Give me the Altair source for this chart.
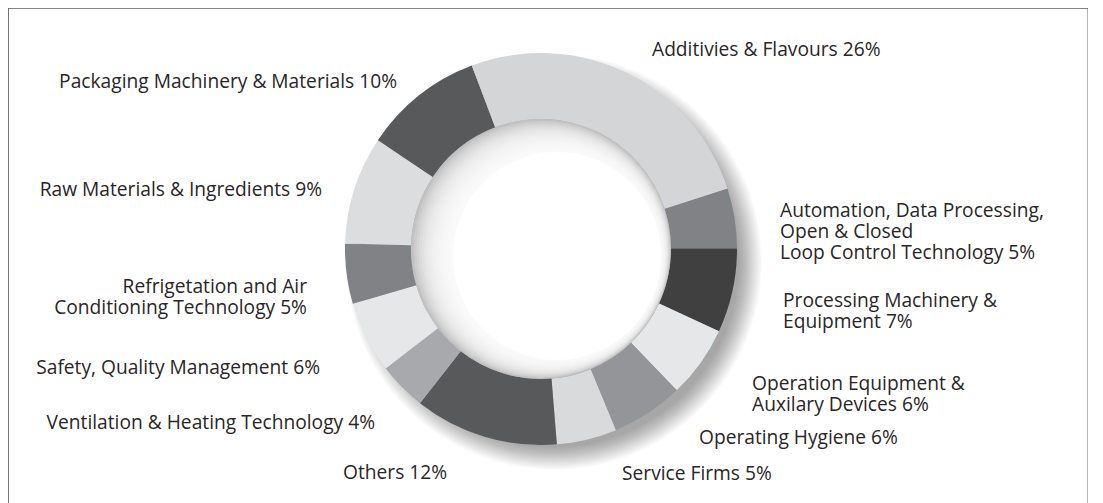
import math
import altair as alt
import pandas as pd

# ---------------- data ----------------
categories = [
    "Automation, Data Processing, Open & Closed Loop Control Technology",
    "Processing Machinery & Equipment",
    "Operation Equipment & Auxilary Devices",
    "Operating Hygiene",
    "Service Firms",
    "Others",
    "Ventilation & Heating Technology",
    "Safety, Quality Management",
    "Refrigetation and Air Conditioning Technology",
    "Raw Materials & Ingredients",
    "Packaging Machinery & Materials",
    "Additivies & Flavours",
]
shares = [5, 7, 6, 6, 5, 12, 4, 6, 5, 9, 10, 26]
label_lines = [
    "Automation, Data Processing,\nOpen & Closed\nLoop Control Technology 5%",
    "Processing Machinery &\nEquipment 7%",
    "Operation Equipment &\nAuxilary Devices 6%",
    "Operating Hygiene 6%",
    "Service Firms 5%",
    "Others 12%",
    "Ventilation & Heating Technology 4%",
    "Safety, Quality Management 6%",
    "Refrigetation and Air\nConditioning Technology 5%",
    "Raw Materials & Ingredients 9%",
    "Packaging Machinery & Materials 10%",
    "Additivies & Flavours 26%",
]

# ---------------- styles / layout ----------------
grays = ["#808285", "#404041", "#e6e7e8", "#939598", "#d9dadb", "#58595b",
         "#a7a9ac", "#e6e7e8", "#808285", "#dcdddf", "#58595b", "#d4d5d6"]
MARGIN = 8
W, H = 1080, 497
CX, CY = 541 - MARGIN, 249 - MARGIN        # donut centre (plot coords)
R_OUT, R_IN = 196, 130
START = math.radians(72.0)
FONT = "Open Sans"
FS = 19.2
TXT = "#2a2627"

# label anchors (page pixels): x, y of block centre, alignment
label_x = [780, 783, 752, 699, 622, 343, 375, 320, 307, 322, 397, 652]
label_y = [211, 300.5, 383.5, 438, 474, 473, 423, 368, 287, 190, 82, 50]
label_align = ["left", "left", "left", "left", "left", "left",
               "right", "right", "right", "right", "right", "left"]

df = pd.DataFrame({
    "category": categories,
    "share": shares,
    "idx": list(range(len(categories))),
})

lab = pd.DataFrame({
    "text": label_lines,
    "x": [v - MARGIN for v in label_x],
    "y": [v - MARGIN for v in label_y],
    "align": label_align,
})

one = pd.DataFrame({"k": [0]})


def disc(r, cx, cy, color, opacity):
    return alt.Chart(one).mark_arc(
        theta=0, theta2=2 * math.pi, innerRadius=0, outerRadius=r,
        color=color, opacity=opacity, stroke=None
    ).encode(x=alt.value(cx), y=alt.value(cy))


# drop shadow (decoration)
shadow_layers = [disc(208 - i, CX + 13, CY + 13, "#000000", 0.017)
                 for i in range(24)]

donut = alt.Chart(df).mark_arc(
    innerRadius=R_IN, outerRadius=R_OUT, stroke=None
).encode(
    theta=alt.Theta("share:Q", stack=True,
                    scale=alt.Scale(range=[START, START + 2 * math.pi])),
    color=alt.Color("category:N",
                    scale=alt.Scale(domain=categories, range=grays),
                    legend=None),
    order=alt.Order("idx:Q"),
    x=alt.value(CX),
    y=alt.value(CY),
)

# inner 3D ring (decoration)
N = 16
ring_layers = [disc(R_IN, CX, CY, "#c6c6c6", 0.86)]
for i in range(1, N + 1):
    t = i / N
    ring_layers.append(disc(R_IN - t * (R_IN - 104), CX + t * 16, CY + t * 7,
                            "#ffffff", 0.17 if i < N else 1.0))


def text_layer(align):
    return alt.Chart(lab).transform_filter(
        alt.datum.align == align
    ).mark_text(
        align=align, baseline="middle", font=FONT, fontSize=FS,
        color=TXT, lineBreak="\n", lineHeight=21
    ).encode(
        x=alt.X("x:Q", scale=None),
        y=alt.Y("y:Q", scale=None),
        text="text:N",
    )


chart = alt.layer(
    *shadow_layers, donut, *ring_layers, text_layer("left"), text_layer("right")
).properties(
    width=W, height=H, padding=0, autosize="none"
).configure_view(
    stroke="#5e5e60", strokeWidth=1.3
)

chart.save("out.html", embed_options={"renderer": "svg", "actions": False})
